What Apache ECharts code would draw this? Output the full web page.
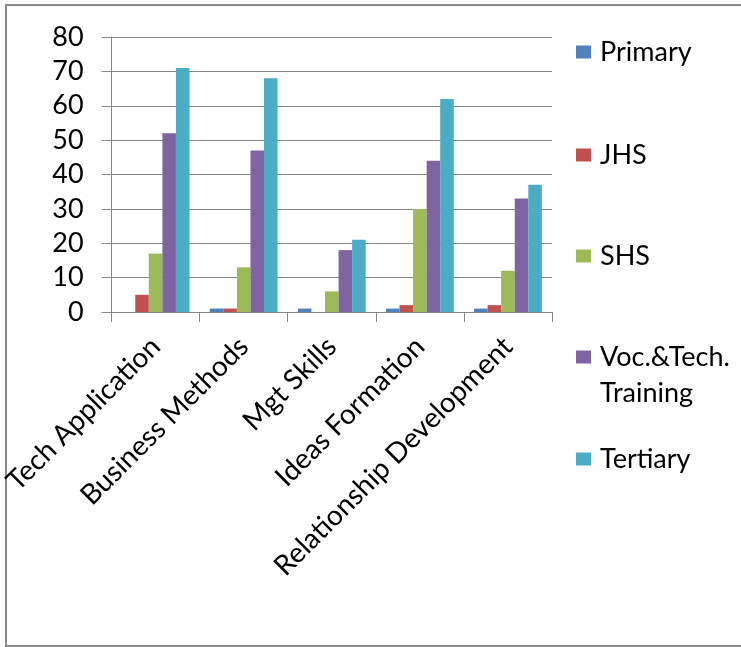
<!DOCTYPE html>
<html>
<head>
<meta charset="utf-8">
<script src="https://cdn.jsdelivr.net/npm/echarts@6/dist/echarts.min.js"></script>
<style>
  html, body { margin: 0; padding: 0; background: #fff; }
  #chart { width: 741px; height: 647px; }
</style>
</head>
<body>
<div id="chart"></div>
<script>
// Skill areas on the category axis
const categories = ['Tech Application', 'Business Methods', 'Mgt Skills', 'Ideas Formation', 'Relationship Development'];

// Respondents per education level
const primary  = [0, 1, 1, 1, 1];
const jhs      = [5, 1, 0, 2, 2];
const shs      = [17, 13, 6, 30, 12];
const vocTech  = [52, 47, 18, 44, 33];
const tertiary = [71, 68, 21, 62, 37];

const yTicks = [0, 10, 20, 30, 40, 50, 60, 70, 80];

const seriesDefs = [
  { name: 'Primary', data: primary, color: '#4F81BD', label: 'Primary' },
  { name: 'JHS', data: jhs, color: '#C0504D', label: 'JHS' },
  { name: 'SHS', data: shs, color: '#9BBB59', label: 'SHS' },
  { name: 'Voc.&Tech. Training', data: vocTech, color: '#8064A2', label: 'Voc.&Tech.\nTraining' },
  { name: 'Tertiary', data: tertiary, color: '#4BACC6', label: 'Tertiary' }
];

const FONT = 'Lato';
const LINE_H = 36;
const legendCenters = [52, 155, 256, 357, 459];

// One legend block per series so the entries sit at fixed rows.
// A two-line entry gets a blank first line so its swatch lines up with the first text line.
const legends = seriesDefs.map((s, i) => {
  const multi = s.label.indexOf('\n') >= 0;
  const text = multi ? ' \n' + s.label : s.label;
  return {
    orient: 'vertical',
    left: 576,
    top: multi ? legendCenters[i] - LINE_H * 1.5 : legendCenters[i] - LINE_H / 2,
    padding: 0,
    itemWidth: 15,
    itemHeight: 13,
    icon: 'rect',
    data: [s.name],
    formatter: () => text,
    selectedMode: false,
    textStyle: {
      fontFamily: FONT,
      fontSize: 27,
      color: '#000',
      lineHeight: LINE_H,
      padding: [0, 0, 0, 4]
    }
  };
});

const chart = echarts.init(document.getElementById('chart'), null, { renderer: 'canvas' });

chart.setOption({
  backgroundColor: '#fff',
  animation: false,
  grid: { left: 108, right: 189, top: 37, bottom: 335, containLabel: false },
  legend: legends,
  xAxis: {
    type: 'category',
    data: categories,
    boundaryGap: true,
    axisLine: { lineStyle: { color: '#868686', width: 1 } },
    axisTick: { show: true, length: 10, alignWithLabel: false, lineStyle: { color: '#868686' } },
    axisLabel: {
      interval: 0,
      rotate: 45,
      margin: 30,
      fontFamily: FONT,
      fontSize: 28,
      color: '#000'
    }
  },
  yAxis: {
    type: 'value',
    min: yTicks[0],
    max: yTicks[yTicks.length - 1],
    interval: 10,
    axisLine: { show: true, lineStyle: { color: '#868686', width: 1 } },
    axisTick: { show: true, length: 10, inside: false, lineStyle: { color: '#868686' } },
    splitLine: { show: true, lineStyle: { color: '#868686', width: 1 } },
    axisLabel: {
      margin: 28,
      fontFamily: FONT,
      fontSize: 27,
      color: '#000'
    }
  },
  series: seriesDefs.map(s => ({
    name: s.name,
    type: 'bar',
    data: s.data,
    barGap: '0%',
    barCategoryGap: '23%',
    itemStyle: { color: s.color }
  })),
  graphic: [{
    type: 'rect',
    shape: { x: 6, y: 5, width: 800, height: 641 },
    style: { fill: 'none', stroke: '#8c8c8c', lineWidth: 2 },
    silent: true,
    z: -10
  }]
});
</script>
</body>
</html>
